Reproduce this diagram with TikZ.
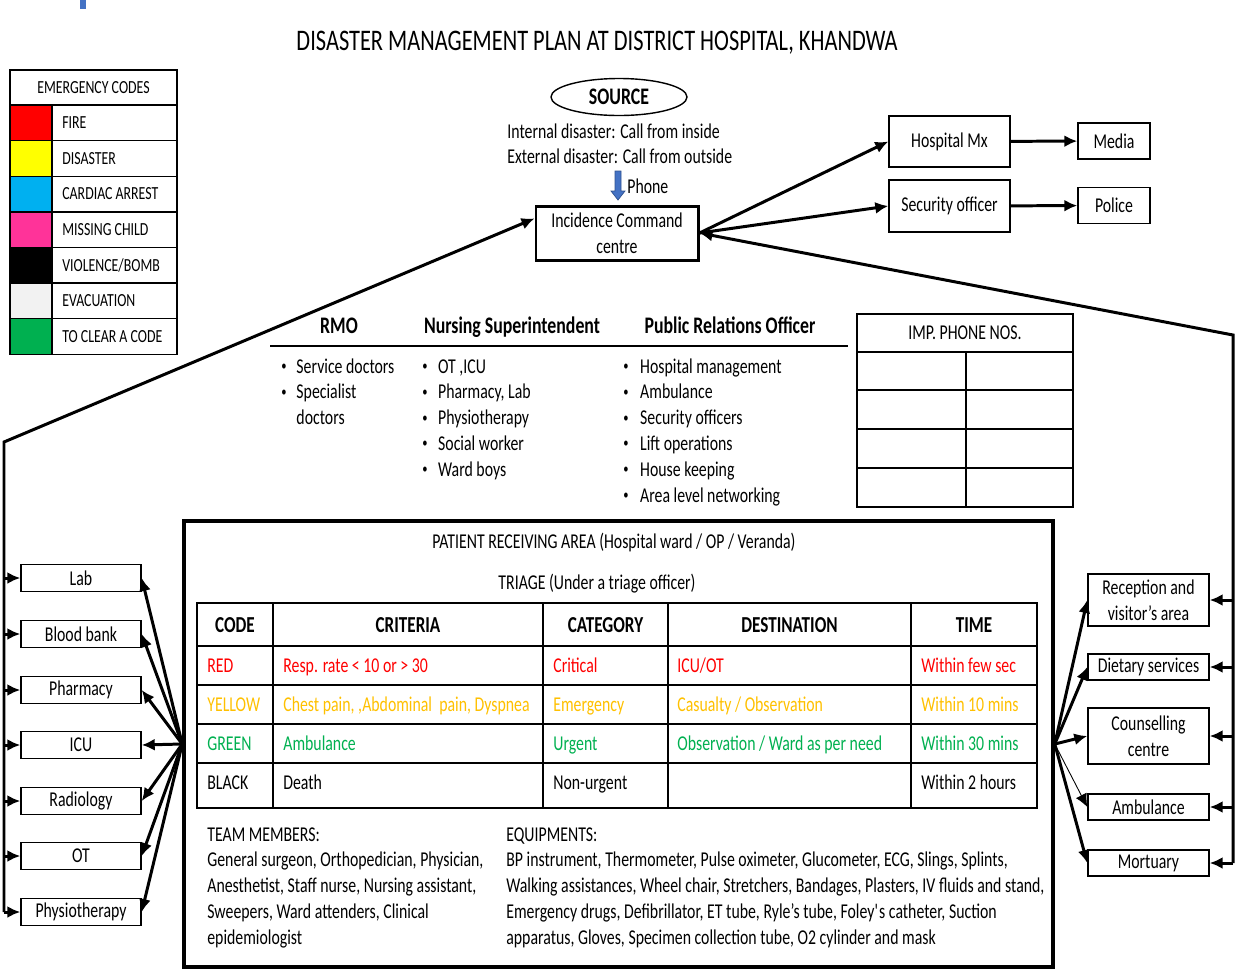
\documentclass[tikz,border=0pt]{standalone}
\usepackage{fontspec}
\setmainfont{Carlito}[FakeStretch=0.75]
\usetikzlibrary{arrows.meta,shapes.geometric}
\definecolor{codered}{HTML}{FF0000}
\definecolor{codeyellow}{HTML}{FFFF00}
\definecolor{codecyan}{HTML}{00B0F0}
\definecolor{codepink}{HTML}{FF3399}
\definecolor{codegrey}{HTML}{F2F2F2}
\definecolor{codegreen}{HTML}{00B050}
\definecolor{triageyellow}{HTML}{FFC000}
\definecolor{phoneblue}{HTML}{4472C4}
\definecolor{phoneedge}{HTML}{2F528F}
\newcommand{\listdot}{\raisebox{0.25ex}{\fontsize{8}{8}\selectfont\textbullet}}
\begin{document}
\begin{tikzpicture}[x=0.2mm, y=-0.2mm,
    every node/.style={font=\fontsize{12}{14.7}\selectfont, inner sep=0pt},
    box/.style={draw, line width=0.8pt, align=center, minimum width=24.2mm, minimum height=5.3mm},
    cell/.style={draw, line width=0.8pt},
    link/.style={line width=1.7pt, -{Latex[length=2.6mm,width=2.4mm]}},
    faint link/.style={line width=0.5pt, -{Latex[length=2.6mm,width=2.4mm]}},
    small/.style={font=\fontsize{10.5}{12.8}\selectfont},
    head/.style={font=\fontsize{13.5}{16}\selectfont\bfseries},
    colhead/.style={font=\fontsize{13}{15.6}\selectfont\bfseries, anchor=base}]
    \useasboundingbox (0,0) rectangle (1235,969);
    % 顶部
    \fill[phoneblue] (80,0) rectangle (86,9);
    \node[font=\fontsize{17}{20}\selectfont, anchor=base] (title) at (597,50) {DISASTER MANAGEMENT PLAN AT DISTRICT HOSPITAL, KHANDWA};
    % 代码表
    \draw[cell] (10,70) rectangle (177,105);
    \node[small] (codes) at (93.5,88) {EMERGENCY CODES};
    \foreach \c/\t [count=\i] in {codered/FIRE, codeyellow/DISASTER, codecyan/CARDIAC ARREST, codepink/MISSING CHILD, black/{VIOLENCE/BOMB}, codegrey/EVACUATION, codegreen/TO CLEAR A CODE} {
        \filldraw[cell, fill=\c] (10,{105+35.6*(\i-1)}) rectangle (52,{105+35.6*\i});
        \draw[cell] (52,{105+35.6*(\i-1)}) rectangle (177,{105+35.6*\i});
        \node[small, anchor=west] (code\i) at (62,{87.2+35.6*\i}) {\t};
    }
    % 来源
    \node[draw, ellipse, line width=0.8pt, minimum width=27.2mm, minimum height=7.4mm, head] (source) at (619,97) {SOURCE};
    \node[anchor=base west] (calls) at (507,138) {\begin{tabular}[t]{@{}l@{}}Internal disaster: Call from inside\\ External disaster: Call from outside\end{tabular}};
    \filldraw[fill=phoneblue, draw=phoneedge, line width=0.4pt] (615,171) -- (621,171) -- (621,191) -- (625,191) -- (618,200) -- (611,191) -- (615,191) -- cycle;
    \node[anchor=base west] (phone) at (627,193) {Phone};
    \node[box, line width=1.7pt, minimum width=32.4mm, minimum height=10.8mm] (icc) at (617,233) {Incidence Command\\centre};
    % 右上
    \node[box, minimum height=10.2mm] (hmx) at (949.5,141.5) {Hospital Mx};
    \node[box, minimum height=10.4mm] (sec) at (949.5,206) {Security officer};
    \node[box, minimum width=14.4mm, minimum height=7.2mm] (media) at (1114,141) {Media};
    \node[box, minimum width=14.4mm, minimum height=7.2mm] (police) at (1114,205.5) {Police};
    \draw[link] (icc.east) -- (hmx.west);
    \draw[link] (icc.east) -- (sec.west);
    \draw[link] (hmx) -- (media);
    \draw[link] (sec) -- (police);
    % 职责
    \node[head, anchor=base] (rmo) at (339,333) {RMO};
    \node[head, anchor=base] (nurse) at (512,333) {Nursing Superintendent};
    \node[head, anchor=base] (pro) at (730,333) {Public Relations Officer};
    \draw[line width=0.6pt] (270,346) -- (848,346);
    \node[anchor=base west] (rmolist) at (281,373) {\begin{tabular}[t]{@{}p{8.6pt}@{}l@{}}\listdot & Service doctors\\ \listdot & Specialist\\ & doctors\end{tabular}};
    \node[anchor=base west] (nurselist) at (422,373) {\begin{tabular}[t]{@{}p{9pt}@{}l@{}}\listdot & OT ,ICU\\ \listdot & Pharmacy, Lab\\ \listdot & Physiotherapy\\ \listdot & Social worker\\ \listdot & Ward boys\end{tabular}};
    \node[anchor=base west] (prolist) at (623,373) {\begin{tabular}[t]{@{}p{9.6pt}@{}l@{}}\listdot & Hospital management\\ \listdot & Ambulance\\ \listdot & Security officers\\ \listdot & Lift operations\\ \listdot & House keeping\\ \listdot & Area level networking\end{tabular}};
    % 电话表
    \draw[cell] (857,314) rectangle (1073,507);
    \foreach \y in {352,390,429,468} \draw[cell] (857,\y) -- (1073,\y);
    \draw[cell] (966,352) -- (966,507);
    \node (phones) at (965,333) {IMP. PHONE NOS.};
    % 接收区
    \node[draw, line width=2pt, minimum width=173.8mm, minimum height=89.2mm] (pra) at (618.5,744) {};
    \node[anchor=base] (prahead) at (614,548) {PATIENT RECEIVING AREA (Hospital ward / OP / Veranda)};
    \node[anchor=base] (triage) at (597,589) {TRIAGE (Under a triage officer)};
    \draw[cell] (197,603) rectangle (1037,808);
    \foreach \x in {273,543,668,911} \draw[cell] (\x,603) -- (\x,808);
    \foreach \y in {646,685,724,763} \draw[cell] (197,\y) -- (1037,\y);
    \foreach \t/\x [count=\i] in {CODE/235, CRITERIA/408, CATEGORY/605.5, DESTINATION/789.5, TIME/974}
        \node[colhead] (th\i) at (\x,632) {\t};
    \foreach \col/\y/\a/\b/\c/\d/\e [count=\r] in {
        codered/672/RED/{Resp. rate < 10 or > 30}/Critical/{ICU/OT}/{Within few sec},
        triageyellow/711/YELLOW/{Chest pain, ,Abdominal\ \ pain, Dyspnea}/Emergency/{Casualty / Observation}/{Within 10 mins},
        codegreen/750/GREEN/Ambulance/Urgent/{Observation / Ward as per need}/{Within 30 mins},
        black/789/BLACK/Death/Non-urgent/{}/{Within 2 hours}} {
        \node[anchor=base west, text=\col] (r\r a) at (207,\y) {\a};
        \node[anchor=base west, text=\col] (r\r b) at (283,\y) {\b};
        \node[anchor=base west, text=\col] (r\r c) at (553,\y) {\c};
        \node[anchor=base west, text=\col] (r\r d) at (677,\y) {\d};
        \node[anchor=base west, text=\col] (r\r e) at (921,\y) {\e};
    }
    \node[anchor=base west] (team) at (207,841) {\begin{tabular}[t]{@{}l@{}}TEAM MEMBERS:\\ General surgeon, Orthopedician, Physician,\\ Anesthetist, Staff nurse, Nursing assistant,\\ Sweepers, Ward attenders, Clinical\\ epidemiologist\end{tabular}};
    \node[anchor=base west] (equip) at (506,841) {\begin{tabular}[t]{@{}l@{}}EQUIPMENTS:\\ BP instrument, Thermometer, Pulse oximeter, Glucometer, ECG, Slings, Splints,\\ Walking assistances, Wheel chair, Stretchers, Bandages, Plasters, IV fluids and stand,\\ Emergency drugs, Defibrillator, ET tube, Ryle’s tube, Foley\textquotesingle s catheter, Suction\\ apparatus, Gloves, Specimen collection tube, O2 cylinder and mask\end{tabular}};
    % 两侧干线
    \coordinate (ltop) at (4,442);
    \coordinate (lbot) at (4,912);
    \coordinate (rtop) at (1233,335);
    \coordinate (rbot) at (1233,863);
    \draw[link] (lbot) -- (ltop) -- (icc.170);
    \draw[link] (rbot) -- (rtop) -- (icc.east);
    % 左侧科室
    \foreach \n/\t/\y in {lab/Lab/578, blood/Blood bank/634, pharm/Pharmacy/690, icu/ICU/745, radio/Radiology/801, ot/OT/856, physio/Physiotherapy/912} {
        \node[box, minimum width=24mm, minimum height=5.4mm] (\n) at (81,\y) {\t};
        \draw[link] (ltop |- \n.west) -- (\n.west);
        \draw[link] (pra.west) -- (\n.east);
    }
    % 右侧服务
    \node[box, minimum height=10.4mm] (rec) at (1148.5,600) {Reception and\\visitor’s area};
    \node[box, minimum height=5.2mm] (diet) at (1148.5,667) {Dietary services};
    \node[box, minimum height=11.2mm] (couns) at (1148.5,736) {Counselling\\centre};
    \node[box, minimum height=5.2mm] (amb) at (1148.5,807) {Ambulance};
    \node[box, minimum height=5.2mm] (mort) at (1148.5,863) {Mortuary};
    \foreach \n in {rec,diet,couns,amb,mort}
        \draw[link] (rtop |- \n.east) -- (\n.east);
    \draw[link] (pra.east) -- (rec.west);
    \draw[link] (pra.east) -- (diet.west);
    \draw[link] (pra.east) -- (couns.west);
    \draw[faint link] (pra.east) -- (amb.west);
    \draw[link] (pra.east) -- (mort.west);
\end{tikzpicture}
\end{document}
